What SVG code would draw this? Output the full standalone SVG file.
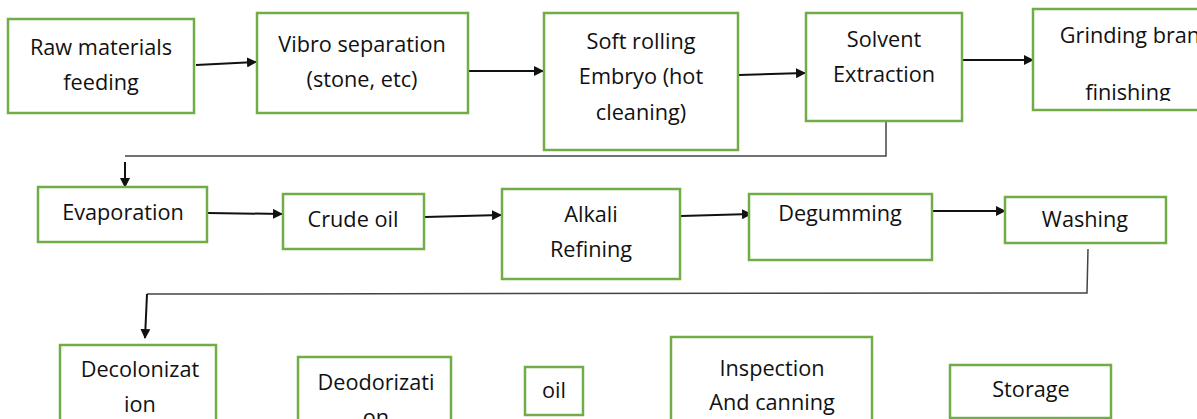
<svg xmlns="http://www.w3.org/2000/svg" width="1197" height="419" viewBox="0 0 1197 419">
<style>
.box{fill:#fff;stroke:#70AD47;stroke-width:2.5}
.t{font-family:"Open Sans","Liberation Sans",sans-serif;font-size:21.7px;fill:#111;text-anchor:middle}
.c{stroke:#111;stroke-width:2;fill:none}
.g{stroke:#444;stroke-width:1.5;fill:none}
</style>
<defs>
<marker id="ah" markerWidth="10" markerHeight="10" refX="9" refY="5" orient="auto" markerUnits="userSpaceOnUse">
<path d="M0,0 L10,5 L0,10 Z" fill="#111"/>
</marker>
<clipPath id="clipG"><rect x="1033" y="0" width="164" height="101"/></clipPath>
</defs>
<rect width="1197" height="419" fill="#fff"/>
<g id="connectors">
<line class="c" x1="196" y1="65" x2="256" y2="62" marker-end="url(#ah)"/>
<line class="c" x1="469" y1="71" x2="543" y2="71" marker-end="url(#ah)"/>
<line class="c" x1="739" y1="75" x2="805" y2="73" marker-end="url(#ah)"/>
<line class="c" x1="963" y1="60" x2="1033" y2="60" marker-end="url(#ah)"/>
<polyline class="g" points="886,122 886,156 125,156"/>
<line class="c" x1="125" y1="162" x2="125" y2="187" marker-end="url(#ah)"/>
<line class="c" x1="208" y1="213" x2="282" y2="214" marker-end="url(#ah)"/>
<line class="c" x1="425" y1="217" x2="501" y2="215" marker-end="url(#ah)"/>
<line class="c" x1="681" y1="216" x2="751" y2="214" marker-end="url(#ah)"/>
<line class="c" x1="932" y1="211" x2="1005" y2="211" marker-end="url(#ah)"/>
<polyline class="g" points="1088,249 1087,293 147,294"/>
<line class="c" x1="147" y1="294" x2="145" y2="338" marker-end="url(#ah)"/>
</g>
<g id="n1"><rect class="box" x="8" y="19" width="186" height="94"/><text class="t" x="101" y="55">Raw materials</text><text class="t" x="101" y="90">feeding</text></g>
<g id="n2"><rect class="box" x="257" y="13" width="211" height="100"/><text class="t" x="362" y="52">Vibro separation</text><text class="t" x="362" y="87">(stone, etc)</text></g>
<g id="n3"><rect class="box" x="544" y="13" width="194" height="137"/><text class="t" x="641" y="49">Soft rolling</text><text class="t" x="641" y="84">Embryo (hot</text><text class="t" x="641" y="120">cleaning)</text></g>
<g id="n4"><rect class="box" x="806" y="13" width="156" height="108"/><text class="t" x="884" y="47">Solvent</text><text class="t" x="884" y="82">Extraction</text></g>
<g id="n5"><rect class="box" x="1033" y="9" width="170" height="101"/><g clip-path="url(#clipG)"><text class="t" x="1130" y="43">Grinding bran</text><text class="t" x="1128" y="100">finishing</text></g></g>
<g id="n6"><rect class="box" x="38" y="187" width="169" height="55"/><text class="t" x="123" y="220">Evaporation</text></g>
<g id="n7"><rect class="box" x="283" y="194" width="141" height="55"/><text class="t" x="353" y="227">Crude oil</text></g>
<g id="n8"><rect class="box" x="502" y="189" width="178" height="90"/><text class="t" x="591" y="222">Alkali</text><text class="t" x="591" y="257">Refining</text></g>
<g id="n9"><rect class="box" x="749" y="194" width="183" height="66"/><text class="t" x="840" y="221">Degumming</text></g>
<g id="n10"><rect class="box" x="1005" y="197" width="161" height="46"/><text class="t" x="1085" y="227">Washing</text></g>
<g id="n11"><rect class="box" x="60" y="345" width="156" height="90"/><text class="t" x="140" y="377">Decolonizat</text><text class="t" x="140" y="412">ion</text></g>
<g id="n12"><rect class="box" x="298" y="357" width="153" height="80"/><text class="t" x="376" y="390">Deodorizati</text><text class="t" x="376" y="425">on</text></g>
<g id="n13"><rect class="box" x="525" y="367" width="58" height="48"/><text class="t" x="554" y="398">oil</text></g>
<g id="n14"><rect class="box" x="671" y="337" width="201" height="100"/><text class="t" x="772" y="376">Inspection</text><text class="t" x="772" y="410">And canning</text></g>
<g id="n15"><rect class="box" x="950" y="365" width="161" height="53"/><text class="t" x="1031" y="397">Storage</text></g>
</svg>
